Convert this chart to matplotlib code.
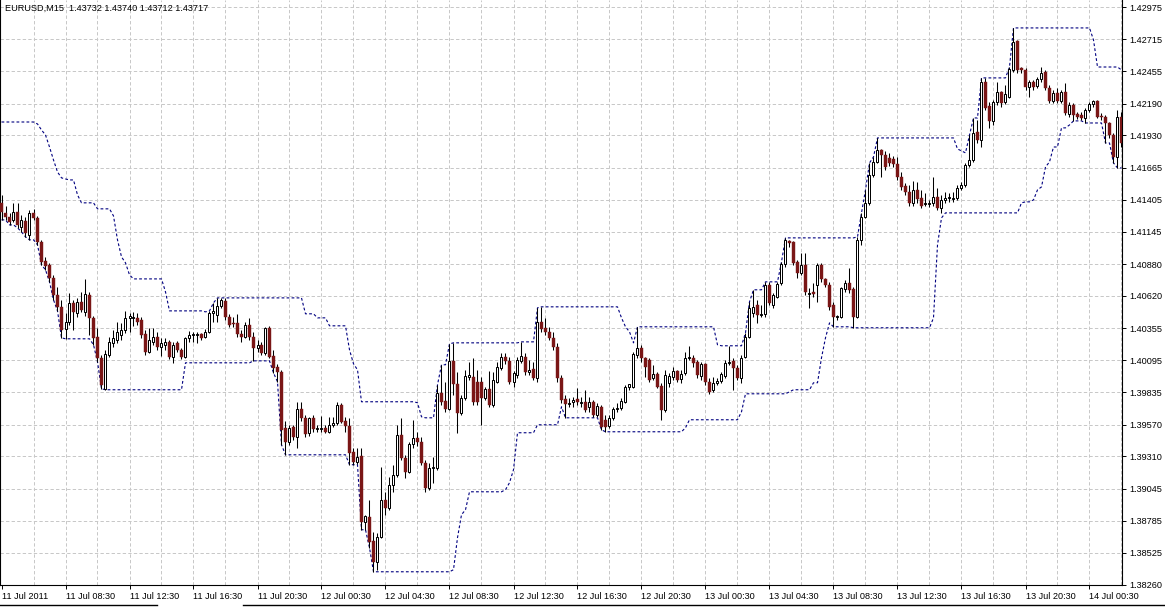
import numpy as np
import matplotlib
matplotlib.use("Agg")
import matplotlib.pyplot as plt
from matplotlib.lines import Line2D

plt.rcParams["lines.scale_dashes"] = False
plt.rcParams["font.family"] = ["Liberation Sans", "DejaVu Sans"]

title_text = "EURUSD,M15  1.43732 1.43740 1.43712 1.43717"

# 15-minute bars starting 11 Jul 2011 04:30
opens = [
1.41380,1.41298,1.41265,1.41241,1.41306,1.41184,1.41233,1.41118,1.41298,1.41257,
1.41061,1.40906,1.40874,1.40768,1.40629,1.40531,1.40351,1.40408,1.40564,1.40482,
1.40572,1.40490,1.40629,1.40441,1.40286,1.40115,1.39862,1.40139,1.40237,1.40262,
1.40302,1.40343,1.40441,1.40441,1.40441,1.40425,1.40311,1.40164,1.40245,1.40286,
1.40204,1.40221,1.40245,1.40123,1.40237,1.40180,1.40123,1.40278,1.40302,1.40302,
1.40311,1.40286,1.40327,1.40482,1.40466,1.40539,1.40580,1.40449,1.40400,1.40400,
1.40311,1.40286,1.40384,1.40286,1.40196,1.40221,1.40156,1.40360,1.40131,1.40041,
1.40000,1.39544,1.39429,1.39552,1.39470,1.39699,1.39625,1.39503,1.39625,1.39535,
1.39535,1.39544,1.39511,1.39568,1.39584,1.39731,1.39601,1.39560,1.39348,1.39266,
1.39315,1.38776,1.38817,1.38621,1.38450,1.38654,1.38956,1.38891,1.39078,1.39160,
1.39486,1.39299,1.39184,1.39413,1.39462,1.39429,1.39258,1.39054,1.39217,1.39217,
1.39829,1.39764,1.39699,1.40090,1.39903,1.39666,1.39788,1.39960,1.39960,1.39919,
1.39919,1.39788,1.39862,1.39731,1.39919,1.40033,1.40123,1.40090,1.39919,1.39976,
1.40090,1.40123,1.40000,1.40025,1.39952,1.40408,1.40360,1.40327,1.40278,1.40204,
1.39952,1.39780,1.39739,1.39756,1.39780,1.39748,1.39756,1.39715,1.39756,1.39650,
1.39715,1.39609,1.39560,1.39625,1.39699,1.39707,1.39756,1.39878,1.39878,1.40139,
1.40196,1.40115,1.40098,1.39952,1.39984,1.39886,1.39690,1.39911,1.39960,1.40009,
1.39943,1.39992,1.40115,1.40115,1.40082,1.39968,1.40066,1.39919,1.39854,1.39911,
1.39927,1.39968,1.40074,1.40090,1.40033,1.39952,1.40123,1.40286,1.40482,1.40547,
1.40466,1.40474,1.40710,1.40547,1.40612,1.40727,1.40882,1.41069,1.41061,1.40898,
1.40808,1.40874,1.40637,1.40653,1.40710,1.40874,1.40759,1.40710,1.40547,1.40449,
1.40449,1.40678,1.40727,1.40678,1.40449,1.41078,1.41265,1.41380,1.41608,1.41714,
1.41812,1.41771,1.41747,1.41739,1.41698,1.41592,1.41518,1.41469,1.41380,1.41486,
1.41420,1.41371,1.41371,1.41380,1.41428,1.41339,1.41404,1.41420,1.41412,1.41420,
1.41502,1.41526,1.41690,1.41730,1.41959,1.41894,1.42367,1.42171,1.42049,1.42204,
1.42285,1.42204,1.42244,1.42465,1.42701,1.42481,1.42465,1.42326,1.42367,1.42334,
1.42391,1.42448,1.42318,1.42212,1.42277,1.42212,1.42285,1.42106,1.42179,1.42106,
1.42098,1.42073,1.42138,1.42187,1.42212,1.42089,1.42081,1.42032,1.41934,1.41755,
1.42081]

highs = [
1.41445,1.41355,1.41298,1.41380,1.41380,1.41282,1.41265,1.41322,1.41331,1.41273,
1.41078,1.40939,1.40890,1.40792,1.40694,1.40588,1.40482,1.40645,1.40588,1.40604,
1.40653,1.40759,1.40653,1.40457,1.40360,1.40139,1.40180,1.40286,1.40343,1.40408,
1.40400,1.40498,1.40482,1.40490,1.40482,1.40449,1.40343,1.40360,1.40360,1.40327,
1.40278,1.40278,1.40262,1.40245,1.40253,1.40196,1.40286,1.40335,1.40327,1.40327,
1.40319,1.40351,1.40498,1.40564,1.40604,1.40604,1.40604,1.40474,1.40449,1.40474,
1.40343,1.40408,1.40441,1.40327,1.40262,1.40245,1.40368,1.40376,1.40180,1.40066,
1.40017,1.39601,1.39568,1.39568,1.39756,1.39756,1.39650,1.39633,1.39650,1.39568,
1.39641,1.39568,1.39633,1.39633,1.39756,1.39748,1.39633,1.39625,1.39380,1.39380,
1.39380,1.38834,1.38956,1.38695,1.38687,1.39225,1.39021,1.39144,1.39242,1.39568,
1.39625,1.39323,1.39429,1.39609,1.39511,1.39470,1.39282,1.39258,1.39307,1.39894,
1.40058,1.39919,1.40229,1.40237,1.40000,1.39813,1.40017,1.40082,1.40115,1.40017,
1.39960,1.39878,1.40009,1.40000,1.40082,1.40156,1.40156,1.40123,1.40009,1.40123,
1.40245,1.40156,1.40098,1.40082,1.40523,1.40531,1.40441,1.40368,1.40327,1.40237,
1.39976,1.39813,1.39788,1.39796,1.39870,1.39796,1.39854,1.39796,1.39772,1.39748,
1.39731,1.39650,1.39650,1.39715,1.39748,1.39788,1.39894,1.39903,1.40164,1.40368,
1.40221,1.40123,1.40115,1.40058,1.40000,1.39911,1.40017,1.39992,1.40041,1.40017,
1.40017,1.40164,1.40213,1.40139,1.40098,1.40082,1.40074,1.39952,1.39960,1.39952,
1.40000,1.40098,1.40213,1.40115,1.40058,1.40139,1.40319,1.40572,1.40670,1.40588,
1.40547,1.40735,1.40735,1.40645,1.40735,1.40898,1.41094,1.41078,1.41069,1.40914,
1.40972,1.40972,1.40686,1.40727,1.40890,1.40890,1.40768,1.40735,1.40572,1.40466,
1.40694,1.40751,1.40849,1.40694,1.41102,1.41298,1.41486,1.41706,1.41755,1.41910,
1.41820,1.41804,1.41788,1.41763,1.41755,1.41632,1.41543,1.41526,1.41559,1.41551,
1.41486,1.41461,1.41404,1.41592,1.41502,1.41445,1.41469,1.41461,1.41469,1.41526,
1.41551,1.41706,1.41934,1.42073,1.42057,1.42400,1.42400,1.42204,1.42220,1.42367,
1.42293,1.42342,1.42489,1.42808,1.42710,1.42489,1.42481,1.42383,1.42383,1.42408,
1.42489,1.42465,1.42342,1.42302,1.42318,1.42302,1.42359,1.42204,1.42196,1.42122,
1.42122,1.42155,1.42204,1.42220,1.42220,1.42114,1.42098,1.42040,1.41951,1.42138,
1.42122]

lows = [
1.41241,1.41241,1.41200,1.41224,1.41176,1.41143,1.41102,1.41078,1.41241,1.41037,
1.40874,1.40833,1.40735,1.40588,1.40498,1.40278,1.40270,1.40384,1.40343,1.40449,
1.40490,1.40457,1.40302,1.40221,1.40082,1.39862,1.39854,1.40123,1.40204,1.40237,
1.40262,1.40319,1.40327,1.40376,1.40384,1.40278,1.40139,1.40156,1.40221,1.40180,
1.40131,1.40180,1.40107,1.40074,1.40164,1.40107,1.40115,1.40245,1.40245,1.40237,
1.40262,1.40278,1.40319,1.40408,1.40408,1.40523,1.40425,1.40368,1.40368,1.40286,
1.40245,1.40278,1.40262,1.40090,1.40164,1.40139,1.40139,1.40115,1.39992,1.39919,
1.39405,1.39323,1.39405,1.39446,1.39380,1.39601,1.39470,1.39478,1.39511,1.39511,
1.39511,1.39503,1.39503,1.39552,1.39568,1.39584,1.39511,1.39242,1.39242,1.39250,
1.38711,1.38711,1.38564,1.38368,1.38385,1.38646,1.38834,1.38874,1.39021,1.39144,
1.39282,1.39136,1.39176,1.39380,1.39397,1.39242,1.39021,1.39038,1.39095,1.39201,
1.39731,1.39674,1.39690,1.39813,1.39503,1.39650,1.39772,1.39935,1.39731,1.39731,
1.39568,1.39772,1.39715,1.39715,1.39911,1.40017,1.40066,1.39903,1.39878,1.39952,
1.40074,1.39976,1.39976,1.39935,1.39919,1.40327,1.40302,1.40262,1.40180,1.39919,
1.39748,1.39625,1.39715,1.39715,1.39731,1.39715,1.39674,1.39674,1.39633,1.39633,
1.39527,1.39511,1.39544,1.39609,1.39674,1.39690,1.39748,1.39854,1.39870,1.40115,
1.40082,1.39960,1.39919,1.39935,1.39870,1.39609,1.39674,1.39878,1.39935,1.39919,
1.39911,1.39976,1.40098,1.40041,1.39952,1.39935,1.39894,1.39821,1.39837,1.39894,
1.39911,1.39952,1.40058,1.39854,1.39935,1.39911,1.40115,1.40278,1.40449,1.40400,
1.40449,1.40449,1.40547,1.40523,1.40604,1.40710,1.40857,1.41020,1.40874,1.40768,
1.40792,1.40629,1.40523,1.40612,1.40572,1.40735,1.40694,1.40506,1.40368,1.40425,
1.40441,1.40653,1.40645,1.40360,1.40441,1.41037,1.41257,1.41363,1.41592,1.41706,
1.41592,1.41649,1.41681,1.41673,1.41567,1.41486,1.41445,1.41355,1.41355,1.41380,
1.41339,1.41355,1.41347,1.41355,1.41322,1.41298,1.41380,1.41388,1.41388,1.41404,
1.41486,1.41510,1.41673,1.41714,1.41869,1.41836,1.42138,1.41992,1.42016,1.42179,
1.42163,1.42187,1.42236,1.42448,1.42440,1.42440,1.42302,1.42244,1.42302,1.42318,
1.42367,1.42302,1.42196,1.42196,1.42196,1.42196,1.42098,1.42081,1.42049,1.42065,
1.42057,1.42032,1.42122,1.42163,1.42073,1.42057,1.41869,1.41910,1.41706,1.41665,
1.41836]

closes = [
1.41306,1.41265,1.41224,1.41306,1.41200,1.41241,1.41135,1.41298,1.41257,1.41061,
1.40898,1.40865,1.40768,1.40629,1.40531,1.40343,1.40408,1.40564,1.40490,1.40572,
1.40506,1.40637,1.40441,1.40278,1.40115,1.39894,1.40147,1.40245,1.40278,1.40327,
1.40343,1.40441,1.40457,1.40449,1.40408,1.40302,1.40164,1.40262,1.40286,1.40204,
1.40237,1.40245,1.40123,1.40221,1.40180,1.40123,1.40278,1.40302,1.40311,1.40311,
1.40278,1.40327,1.40482,1.40498,1.40539,1.40588,1.40449,1.40384,1.40392,1.40311,
1.40286,1.40384,1.40286,1.40196,1.40221,1.40156,1.40360,1.40123,1.40033,1.40000,
1.39527,1.39429,1.39544,1.39470,1.39699,1.39625,1.39495,1.39625,1.39535,1.39544,
1.39544,1.39511,1.39568,1.39584,1.39731,1.39592,1.39560,1.39340,1.39266,1.39307,
1.38776,1.38825,1.38613,1.38450,1.38654,1.38956,1.38891,1.39078,1.39160,1.39486,
1.39299,1.39184,1.39413,1.39462,1.39429,1.39258,1.39054,1.39217,1.39225,1.39829,
1.39756,1.39699,1.40090,1.39903,1.39666,1.39788,1.39968,1.39976,1.39756,1.39756,
1.39788,1.39862,1.39731,1.39935,1.40041,1.40123,1.40090,1.39919,1.39992,1.40098,
1.40131,1.40000,1.40017,1.39952,1.40408,1.40351,1.40327,1.40278,1.40204,1.39952,
1.39772,1.39739,1.39748,1.39772,1.39756,1.39756,1.39690,1.39756,1.39650,1.39723,
1.39552,1.39552,1.39625,1.39699,1.39707,1.39764,1.39878,1.39903,1.40147,1.40196,
1.40115,1.40041,1.39935,1.39984,1.39878,1.39690,1.39976,1.39968,1.40009,1.39935,
1.39984,1.40115,1.40123,1.40074,1.39976,1.40066,1.39919,1.39837,1.39911,1.39927,
1.39984,1.40074,1.40082,1.40033,1.39952,1.40115,1.40286,1.40523,1.40531,1.40466,
1.40474,1.40710,1.40564,1.40629,1.40719,1.40882,1.41078,1.41053,1.40890,1.40808,
1.40874,1.40653,1.40645,1.40637,1.40874,1.40759,1.40710,1.40531,1.40449,1.40457,
1.40686,1.40727,1.40670,1.40449,1.41078,1.41265,1.41380,1.41608,1.41714,1.41812,
1.41771,1.41673,1.41706,1.41698,1.41592,1.41510,1.41469,1.41380,1.41486,1.41412,
1.41355,1.41380,1.41380,1.41428,1.41339,1.41404,1.41420,1.41428,1.41420,1.41502,
1.41526,1.41690,1.41730,1.41951,1.41894,1.42367,1.42155,1.42049,1.42204,1.42285,
1.42196,1.42269,1.42473,1.42693,1.42465,1.42465,1.42326,1.42367,1.42326,1.42391,
1.42440,1.42318,1.42212,1.42277,1.42212,1.42285,1.42114,1.42179,1.42098,1.42081,
1.42073,1.42138,1.42187,1.42212,1.42081,1.42081,1.42032,1.41934,1.41755,1.42081,
1.41869]

# Price channel (20 bars); first bars use the channel level carried from earlier history
channel_period = 20
upper_start = [1.42040,1.42040,1.42040,1.42040,1.42040,1.42040,1.42040,1.42040,1.42040,
               1.42024,1.41975,1.41934,1.41836,1.41730,1.41632,1.41584,1.41575,1.41567,1.41567]

y_labels = ["1.42975","1.42715","1.42455","1.42190","1.41930","1.41665","1.41405",
            "1.41145","1.40880","1.40620","1.40355","1.40095","1.39835","1.39570",
            "1.39310","1.39045","1.38785","1.38525","1.38260"]
x_label_bars = [0,16,32,48,64,80,96,112,128,144,160,176,192,208,224,240,256,272]
x_labels = ["11 Jul 2011","11 Jul 08:30","11 Jul 12:30","11 Jul 16:30","11 Jul 20:30",
            "12 Jul 00:30","12 Jul 04:30","12 Jul 08:30","12 Jul 12:30","12 Jul 16:30",
            "12 Jul 20:30","13 Jul 00:30","13 Jul 04:30","13 Jul 08:30","13 Jul 12:30",
            "13 Jul 16:30","13 Jul 20:30","14 Jul 00:30"]
grid_step = 8

o = np.array(opens); h = np.array(highs); l = np.array(lows); c = np.array(closes)
n = len(o)
x = np.arange(n)

upper = np.array([h[max(0, i - channel_period + 1):i + 1].max() for i in range(n)])
lower = np.array([l[max(0, i - channel_period + 1):i + 1].min() for i in range(n)])
upper[:len(upper_start)] = upper_start

W, H = 1165, 608
fig = plt.figure(figsize=(W / 100, H / 100), dpi=100)
ax = fig.add_axes([0, 23 / H, 1122 / W, 585 / H])
ax.set_xlim(-0.375, n - 1 + 0.125)
ax.set_ylim(1.38262, 1.43036)

grid_kw = dict(color="#c8c8c8", lw=0.72, ls=(0, (2.4, 1.6)), zorder=1)
for lab in y_labels:
    ax.axhline(float(lab), **grid_kw)
for gx in range(grid_step, n, grid_step):
    ax.axvline(gx, **grid_kw)

# channel
dot = (0, (2.0, 1.6))
ax.plot(x, upper, color="#000080", lw=0.8, ls=dot, zorder=2)
ax.plot(x, lower, color="#000080", lw=0.8, ls=dot, zorder=2)

# candles
ax.vlines(x, l, h, color="black", lw=0.75, zorder=3)
bull = c >= o
bottom = np.minimum(o, c)
height = np.abs(c - o)
ax.bar(x[bull], height[bull], bottom=bottom[bull], width=0.5,
       facecolor="white", edgecolor="black", linewidth=0.72, zorder=4)
ax.bar(x[~bull], height[~bull], bottom=bottom[~bull], width=0.72,
       facecolor="#7a1616", edgecolor="#7a1616", linewidth=0.3, zorder=4)

ax.spines["top"].set_visible(False)
for s in ["left", "right", "bottom"]:
    ax.spines[s].set_color("black")
    ax.spines[s].set_linewidth(0.8)

ax.yaxis.tick_right()
ax.set_yticks([float(v) for v in y_labels])
ax.set_yticklabels(y_labels)
ax.set_xticks(x_label_bars)
ax.set_xticklabels(x_labels)
for t in ax.get_xticklabels():
    t.set_ha("left")
ax.tick_params(axis="y", which="both", labelsize=6.6, length=3, width=0.7, pad=2.5, colors="black")
ax.tick_params(axis="x", which="both", labelsize=6.6, length=3, width=0.7, pad=2.0, colors="black")

fig.text(5 / W, 1 - 8 / H, title_text, fontsize=6.6, ha="left", va="center", color="black")

# terminal tab strip at the very bottom
fig.add_artist(Line2D([0, 157 / W], [3.5 / H, 3.5 / H], color="black", lw=1.0))
fig.add_artist(Line2D([243 / W, 1], [3.5 / H, 3.5 / H], color="black", lw=1.0))

fig.savefig("out.png", dpi=100, facecolor="white")
